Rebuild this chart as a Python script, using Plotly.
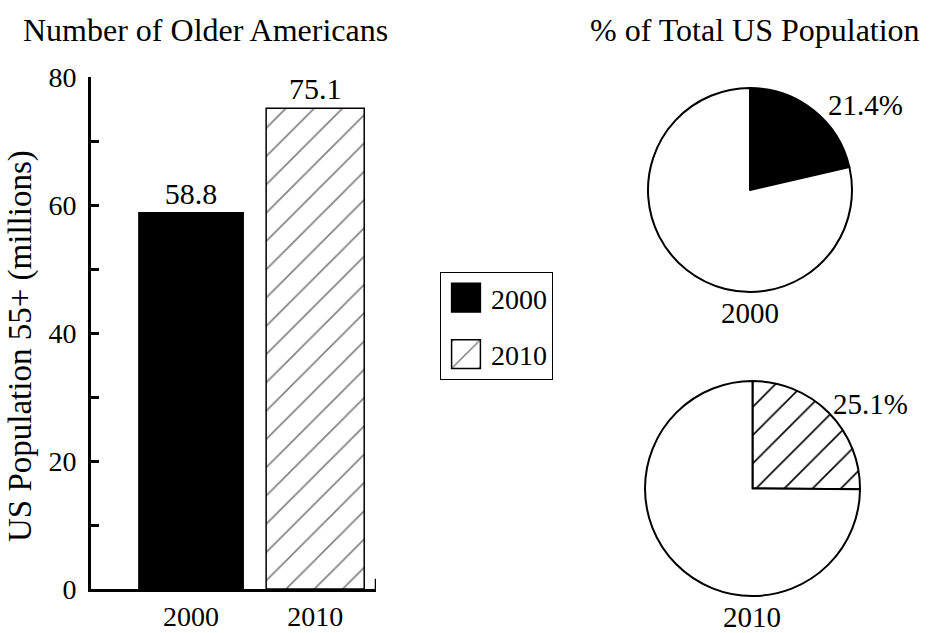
import plotly.graph_objects as go

# ---- data ----
years = ["2000", "2010"]
pop_55plus_millions = [58.8, 75.1]
pct_of_total = [21.4, 25.1]
bar_labels = ["58.8", "75.1"]
y_ticks = [0, 20, 40, 60, 80]

FONT = "Liberation Serif, Times New Roman, serif"
W, H = 930, 633

def px(x):
    return x / W

def py(y):
    return 1 - y / H

fig = go.Figure()

# Bars
fig.add_trace(go.Bar(
    x=[years[0]], y=[pop_55plus_millions[0]], name=years[0],
    text=[bar_labels[0]], textposition="outside",
    marker=dict(color="black", line=dict(color="black", width=1.5)),
    width=0.84, legendgroup="a", cliponaxis=False,
    textfont=dict(size=30, color="black", family=FONT),
))
fig.add_trace(go.Bar(
    x=[years[1]], y=[pop_55plus_millions[1]], name=years[1],
    text=[bar_labels[1]], textposition="outside",
    marker=dict(color="white", line=dict(color="black", width=1.5),
                pattern=dict(shape="/", fgcolor="black", bgcolor="white",
                             size=20, solidity=0.08)),
    width=0.79, legendgroup="b", cliponaxis=False,
    textfont=dict(size=30, color="black", family=FONT),
))

# Pies
pie_specs = [
    dict(x=[px(647), px(853)], y=[py(292), py(88)]),
    dict(x=[px(645), px(860)], y=[py(597), py(380)]),
]
for i in range(2):
    share = pct_of_total[i]
    if i == 0:
        mk = dict(colors=["black", "white"], line=dict(color="black", width=2))
    else:
        mk = dict(colors=["white", "white"], line=dict(color="black", width=2),
                  pattern=dict(shape=["/", ""], fgcolor="black", bgcolor="white",
                               size=20, solidity=0.08))
    fig.add_trace(go.Pie(
        values=[share, 100 - share], labels=["55+", "other"],
        sort=False, direction="clockwise", rotation=0,
        textinfo="none", hoverinfo="skip", showlegend=False,
        marker=mk, domain=pie_specs[i],
    ))

def ann(text, x, y, size, angle=0):
    return dict(text=text, x=px(x), y=py(y), xref="paper", yref="paper",
                xanchor="center", yanchor="middle", textangle=angle,
                showarrow=False, font=dict(size=size, family=FONT, color="black"))

fig.update_layout(
    width=W, height=H,
    margin=dict(l=0, r=0, t=0, b=0, pad=0),
    paper_bgcolor="white", plot_bgcolor="white",
    font=dict(family=FONT, color="black", size=28),
    showlegend=True,
    legend=dict(
        x=px(440), y=py(272), xanchor="left", yanchor="top",
        bordercolor="black", borderwidth=1,
        font=dict(size=28, family=FONT, color="black"),
        tracegroupgap=17, traceorder="grouped",
        itemwidth=40,
    ),
    xaxis=dict(
        domain=[px(91), px(376)], range=[-0.806, 1.49], automargin=False,
        showline=True, linecolor="black", linewidth=3,
        ticks="", showgrid=False, zeroline=False,
        tickfont=dict(size=28, family=FONT),
    ),
    yaxis=dict(
        domain=[py(589), py(77)], range=[0, 80], automargin=False,
        showline=True, linecolor="black", linewidth=3,
        tickvals=y_ticks, ticks="inside", ticklen=8, tickwidth=2.5, tickcolor="black",
        minor=dict(dtick=10, ticks="inside", ticklen=8, tickwidth=2.5, tickcolor="black"),
        showgrid=False, zeroline=False, ticklabelstandoff=6,
        tickfont=dict(size=28, family=FONT),
    ),
    shapes=[
        dict(type="line", xref="x", yref="y", x0=1.49, x1=1.49, y0=0, y1=1.6,
             line=dict(color="black", width=2.5)),
    ],
    annotations=[
        ann("Number of Older Americans", 205, 30, 32),
        ann("% of Total US Population", 755, 30, 32),
        ann("US Population 55+ (millions)", 20, 346, 33, -90),
        ann(f"{pct_of_total[0]}%", 865, 105, 29),
        ann(years[0], 750, 313, 29),
        ann(f"{pct_of_total[1]}%", 870, 404, 29),
        ann(years[1], 752, 617, 29),
    ],
)

post = """
document.body.style.margin = '0';
document.body.style.overflow = 'hidden';
var gd = document.getElementById('{plot_id}');
gd.querySelectorAll('.legendpoints path').forEach(function(p){
  var t = p.getAttribute('transform') || '';
  p.setAttribute('transform', t + ' scale(2.4)');
  p.setAttribute('vector-effect', 'non-scaling-stroke');
});
"""
fig.write_html("out.html", post_script=post, config={"displayModeBar": False})
